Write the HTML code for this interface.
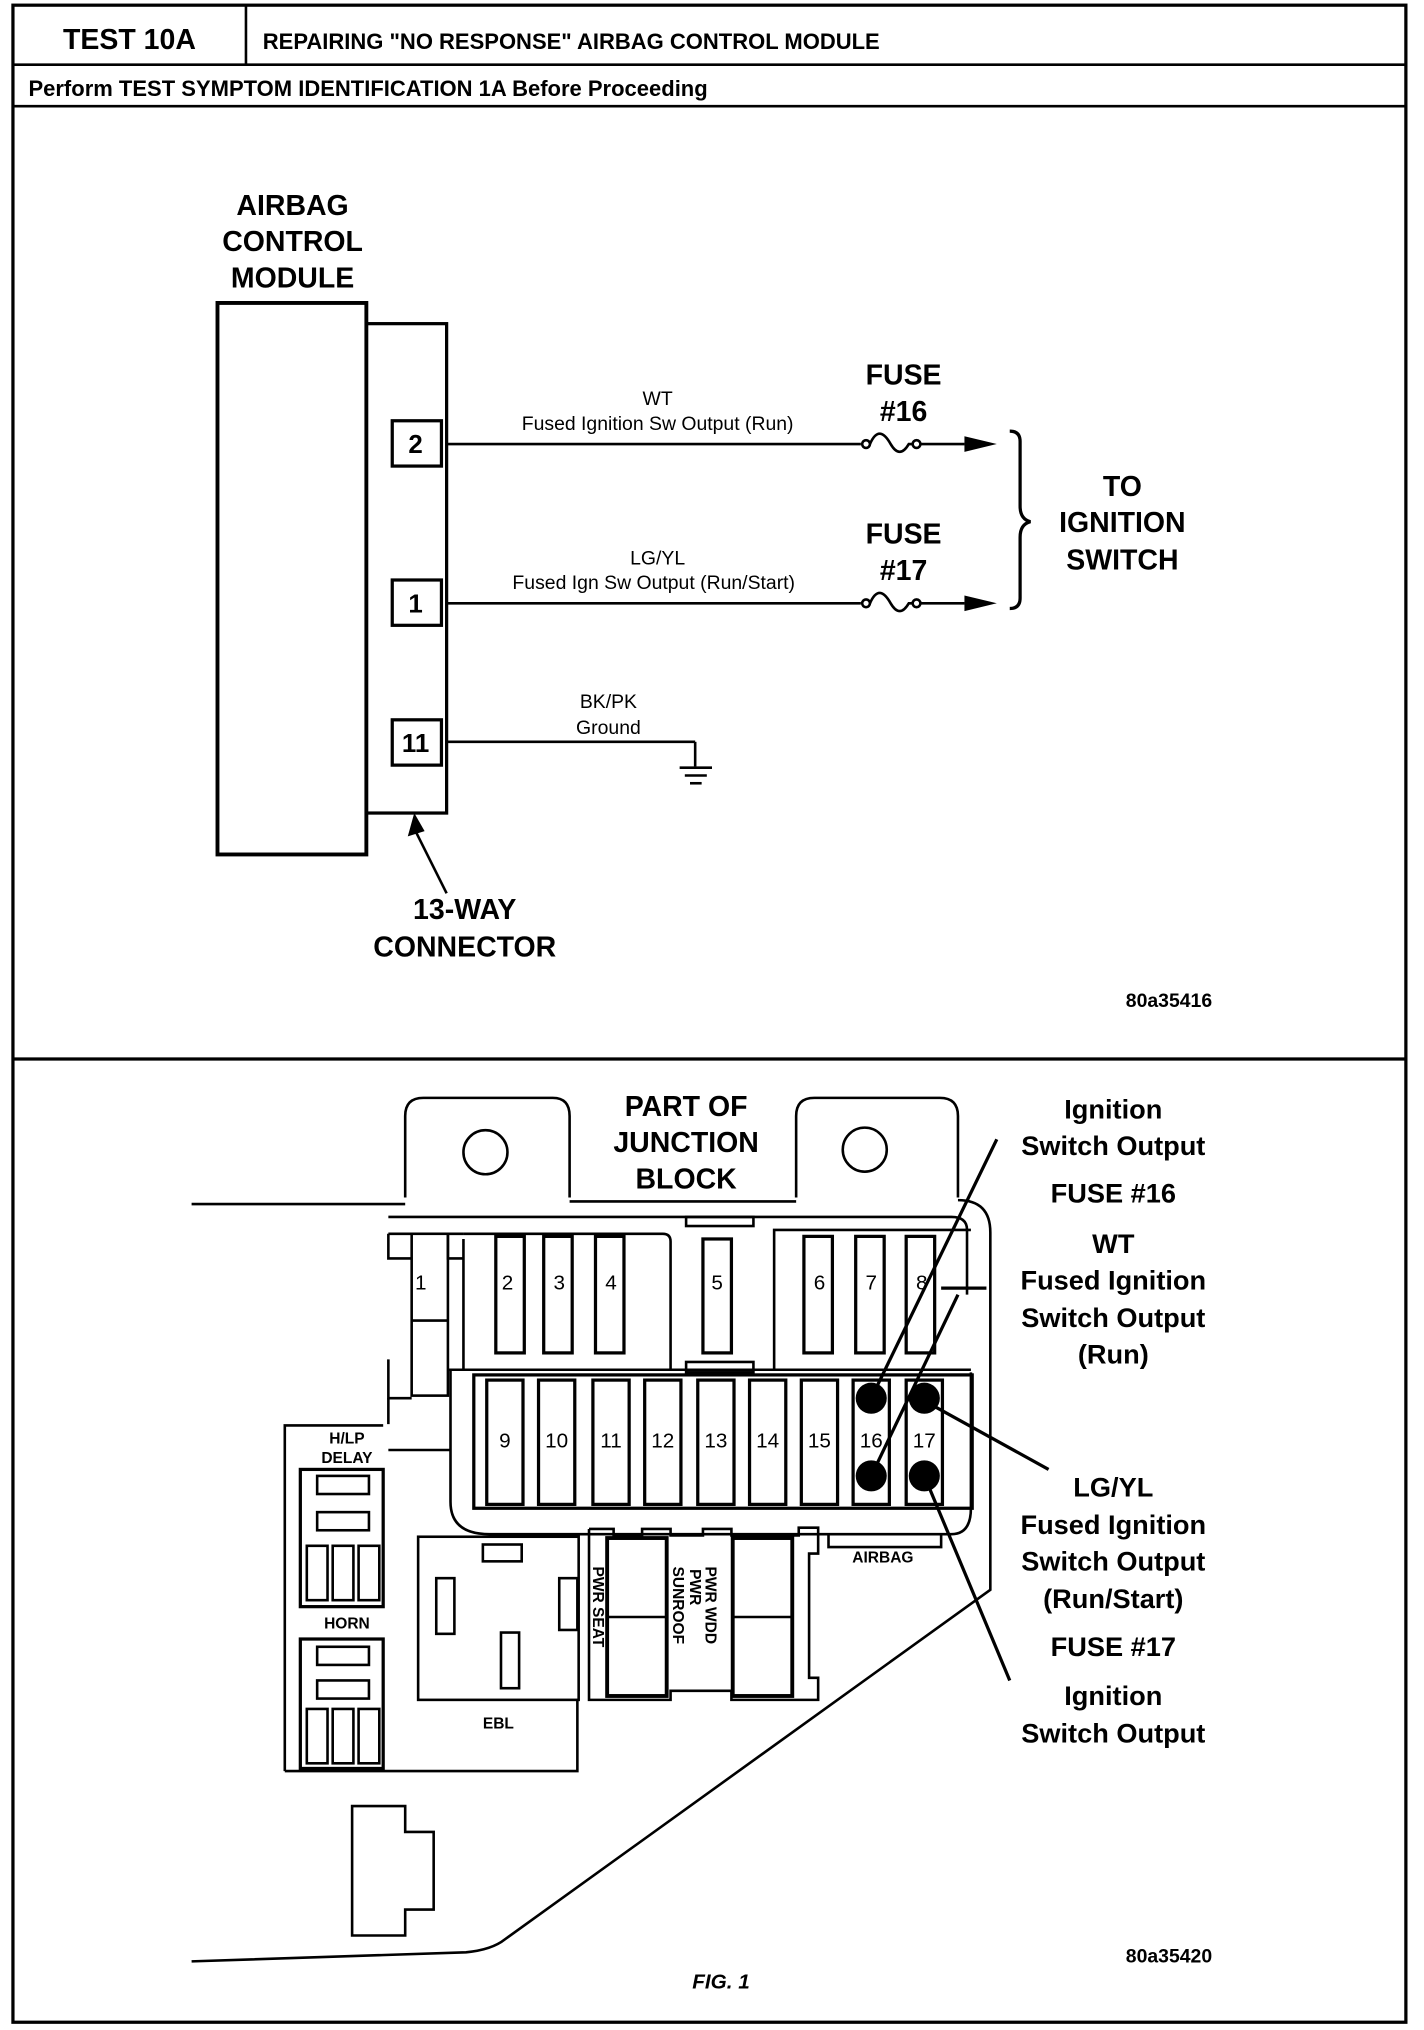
<!DOCTYPE html>
<html><head><meta charset="utf-8"><style>
html,body{margin:0;padding:0;background:#fff}
svg{display:block}
text{font-family:"Liberation Sans",sans-serif;fill:#000}
.b{font-weight:bold}
</style></head><body>
<svg width="1424" height="2030" viewBox="0 0 1100 1568" preserveAspectRatio="none" xmlns="http://www.w3.org/2000/svg">
<g fill="none" stroke="#000" stroke-width="2">
<rect x="10" y="4" width="1076" height="1558" stroke-width="2.5"/>
<line x1="10" y1="50" x2="1086" y2="50"/>
<line x1="190" y1="4" x2="190" y2="50"/>
<line x1="10" y1="82" x2="1086" y2="82"/>
<line x1="10" y1="818" x2="1086" y2="818" stroke-width="2.5"/>
<rect x="168" y="234" width="115" height="426" stroke-width="3"/>
<rect x="283" y="250" width="62" height="378" stroke-width="2.5"/>
<rect x="303" y="325" width="38" height="35" stroke-width="2.5"/>
<rect x="303" y="448" width="38" height="35" stroke-width="2.5"/>
<rect x="303" y="556" width="38" height="35" stroke-width="2.5"/>
<line x1="345" y1="343" x2="665" y2="343"/>
<line x1="345" y1="466" x2="665" y2="466"/>
<line x1="345" y1="573" x2="537" y2="573"/>
<line x1="537" y1="573" x2="537" y2="592"/>
<line x1="525" y1="593" x2="550" y2="593"/><line x1="529" y1="599" x2="546" y2="599"/><line x1="533" y1="605" x2="542" y2="605"/>
<circle cx="669" cy="343" r="3"/><path d="M672 343 q7 -16 16 0 q7 12 14 0 h3"/><circle cx="708" cy="343" r="3"/><line x1="711" y1="343" x2="745" y2="343"/>
<circle cx="669" cy="466" r="3"/><path d="M672 466 q7 -16 16 0 q7 12 14 0 h3"/><circle cx="708" cy="466" r="3"/><line x1="711" y1="466" x2="745" y2="466"/>
<path d="M780 333 q8 0 8 8 v50 q0 10 8 12 q-8 2 -8 12 v47 q0 8 -8 8" stroke-width="2.5"/>
<line x1="345" y1="690" x2="320" y2="640"/>
<path d="M313 925 V862 q0 -14 14 -14 h100 q13 0 13 14 V925" />
<path d="M615 925 V862 q0 -14 14 -14 h97 q14 0 14 14 V925"/>
<circle cx="375" cy="890" r="17"/><circle cx="668" cy="888" r="17"/>
<line x1="148" y1="930" x2="313" y2="930"/><line x1="440" y1="928" x2="615" y2="928"/>
<path d="M740 927 q25 0 25 25 V1228 L390 1498 q-10 8 -30 10 L148 1515"/>
<path d="M300 940 H735 q12 0 12 10 V1000"/>
<path d="M300 953 H318 M300 953 V972 H318 M346 953 V972 H358 M346 953 H358"/>
<rect x="318" y="953" width="28" height="125"/>
<line x1="318" y1="1020" x2="346" y2="1020"/>
<path d="M300 1050 V1080 H318 M346 1058 H750"/>
<path d="M358 957 V1058 M358 953 H512 q6 0 6 6 V1058"/>
<rect x="383" y="955" width="22" height="90" stroke-width="2.5"/>
<rect x="420" y="955" width="22" height="90" stroke-width="2.5"/>
<rect x="460" y="955" width="22" height="90" stroke-width="2.5"/>
<rect x="543" y="957" width="22" height="88" stroke-width="2.5"/>
<rect x="530" y="940" width="52" height="7"/>
<path d="M598 1058 V950 H750"/>
<rect x="621" y="955" width="22" height="90" stroke-width="2.5"/>
<rect x="661" y="955" width="22" height="90" stroke-width="2.5"/>
<rect x="700" y="955" width="22" height="90" stroke-width="2.5"/>
<line x1="727" y1="995" x2="762" y2="995" stroke-width="2.5"/>
<path d="M348 1058 V1160 q0 25 30 25 H735 q15 0 15 -20 V1060"/>
<rect x="366" y="1062" width="385" height="103" stroke-width="2.5"/>
<rect x="530" y="1052" width="52" height="8"/>
<rect x="376" y="1066" width="28" height="96" stroke-width="2.5"/>
<rect x="416" y="1066" width="28" height="96" stroke-width="2.5"/>
<rect x="458" y="1066" width="28" height="96" stroke-width="2.5"/>
<rect x="498" y="1066" width="28" height="96" stroke-width="2.5"/>
<rect x="539" y="1066" width="28" height="96" stroke-width="2.5"/>
<rect x="579" y="1066" width="28" height="96" stroke-width="2.5"/>
<rect x="619" y="1066" width="28" height="96" stroke-width="2.5"/>
<rect x="659" y="1066" width="28" height="96" stroke-width="2.5"/>
<rect x="700" y="1066" width="28" height="96" stroke-width="2.5"/>
<path d="M300 1080 V1100 M348 1120 H300 M640 1185 V1195 H727 V1185"/>
<line x1="770" y1="880" x2="673" y2="1080" stroke-width="2.5"/>
<line x1="740" y1="1000" x2="673" y2="1140" stroke-width="2.5"/>
<line x1="714" y1="1082" x2="810" y2="1135" stroke-width="2.5"/>
<line x1="714" y1="1140" x2="780" y2="1298" stroke-width="2.5"/>
<path d="M220 1368 V1101 H296 M220 1368 H446 V1313"/>
<rect x="232" y="1135" width="64" height="106" stroke-width="2.5"/>
<rect x="245" y="1140" width="40" height="14"/><rect x="245" y="1168" width="40" height="14"/>
<rect x="237" y="1194" width="16" height="42"/><rect x="257" y="1194" width="16" height="42"/><rect x="277" y="1194" width="16" height="42"/>
<rect x="232" y="1266" width="64" height="100" stroke-width="2.5"/>
<rect x="245" y="1272" width="40" height="14"/><rect x="245" y="1298" width="40" height="14"/>
<rect x="237" y="1320" width="16" height="42"/><rect x="257" y="1320" width="16" height="42"/><rect x="277" y="1320" width="16" height="42"/>
<rect x="323" y="1187" width="124" height="126"/>
<rect x="373" y="1193" width="30" height="13"/>
<rect x="337" y="1219" width="14" height="43"/><rect x="432" y="1219" width="14" height="40"/><rect x="387" y="1261" width="14" height="43"/>
<path d="M455 1181 H474 V1186 H496 V1181 H518 V1186 H543 V1181 H565 V1186 H617 V1180 H632 V1200 H625 V1296 H632 V1313 H565 V1306 H518 V1313 H455 V1181"/>
<rect x="469" y="1188" width="46" height="122" stroke-width="3"/>
<line x1="469" y1="1249" x2="515" y2="1249"/>
<rect x="566" y="1188" width="46" height="122" stroke-width="3"/>
<line x1="566" y1="1249" x2="612" y2="1249"/>
<path d="M272 1395 H313 V1415 H335 V1475 H313 V1495 H272 Z"/>
</g>
<g fill="#000">
<polygon points="745,337 770,343 745,349"/>
<polygon points="745,460 770,466 745,472"/>
<polygon points="320,628 315,646 328,642"/>
<circle cx="673" cy="1080" r="12"/><circle cx="673" cy="1140" r="12"/>
<circle cx="714" cy="1080" r="12"/><circle cx="714" cy="1140" r="12"/>
</g>
<text x="100" y="38" class="b" font-size="22" text-anchor="middle">TEST 10A</text>
<text x="203" y="38" class="b" font-size="17">REPAIRING "NO RESPONSE" AIRBAG CONTROL MODULE</text>
<text x="22" y="74" class="b" font-size="17">Perform TEST SYMPTOM IDENTIFICATION 1A Before Proceeding</text>
<g class="b" font-size="22" text-anchor="middle">
<text x="226" y="166">AIRBAG</text><text x="226" y="194">CONTROL</text><text x="226" y="222">MODULE</text>
<text x="359" y="710">13-WAY</text><text x="359" y="739">CONNECTOR</text>
<text x="698" y="297">FUSE</text><text x="698" y="325">#16</text>
<text x="698" y="420">FUSE</text><text x="698" y="448">#17</text>
<text x="867" y="383">TO</text><text x="867" y="411">IGNITION</text><text x="867" y="440">SWITCH</text>
<text x="321" y="350" font-size="20">2</text><text x="321" y="473" font-size="20">1</text><text x="321" y="581" font-size="20">11</text>
</g>
<g font-size="15" text-anchor="middle">
<text x="508" y="313">WT</text><text x="508" y="332">Fused Ignition Sw Output (Run)</text>
<text x="508" y="436">LG/YL</text><text x="505" y="455">Fused Ign Sw Output (Run/Start)</text>
<text x="470" y="547">BK/PK</text><text x="470" y="567">Ground</text>
</g>
<text x="903" y="778" font-size="15" class="b" text-anchor="middle">80a35416</text>
<g class="b" font-size="22" text-anchor="middle">
<text x="530" y="862">PART OF</text><text x="530" y="890">JUNCTION</text><text x="530" y="918">BLOCK</text>
</g>
<g class="b" font-size="21" text-anchor="middle">
<text x="860" y="864">Ignition</text><text x="860" y="892">Switch Output</text><text x="860" y="929">FUSE #16</text>
<text x="860" y="968">WT</text><text x="860" y="996">Fused Ignition</text><text x="860" y="1025">Switch Output</text><text x="860" y="1053">(Run)</text>
<text x="860" y="1156">LG/YL</text><text x="860" y="1185">Fused Ignition</text><text x="860" y="1213">Switch Output</text><text x="860" y="1242">(Run/Start)</text>
<text x="860" y="1279">FUSE #17</text><text x="860" y="1317">Ignition</text><text x="860" y="1346">Switch Output</text>
</g>
<g font-size="16" text-anchor="middle">
<text x="325" y="996">1</text><text x="392" y="996">2</text><text x="432" y="996">3</text><text x="472" y="996">4</text><text x="554" y="996">5</text><text x="633" y="996">6</text><text x="673" y="996">7</text><text x="712" y="996">8</text>
<text x="390" y="1118">9</text><text x="430" y="1118">10</text><text x="472" y="1118">11</text><text x="512" y="1118">12</text><text x="553" y="1118">13</text><text x="593" y="1118">14</text><text x="633" y="1118">15</text><text x="673" y="1118">16</text><text x="714" y="1118">17</text>
</g>
<g class="b" font-size="12" text-anchor="middle">
<text x="268" y="1115">H/LP</text><text x="268" y="1130">DELAY</text><text x="268" y="1258">HORN</text>
<text x="385" y="1335">EBL</text><text x="682" y="1207">AIRBAG</text>
<text transform="translate(458,1210) rotate(90)" text-anchor="start">PWR SEAT</text>
<text transform="translate(545,1210) rotate(90)" text-anchor="start">PWR WDD</text>
<text transform="translate(533,1212) rotate(90)" text-anchor="start">PWR</text>
<text transform="translate(520,1210) rotate(90)" text-anchor="start">SUNROOF</text>
</g>
<text x="903" y="1516" font-size="15" class="b" text-anchor="middle">80a35420</text>
<text x="557" y="1536" font-size="16" class="b" font-style="italic" text-anchor="middle">FIG. 1</text>
</svg>
</body></html>
